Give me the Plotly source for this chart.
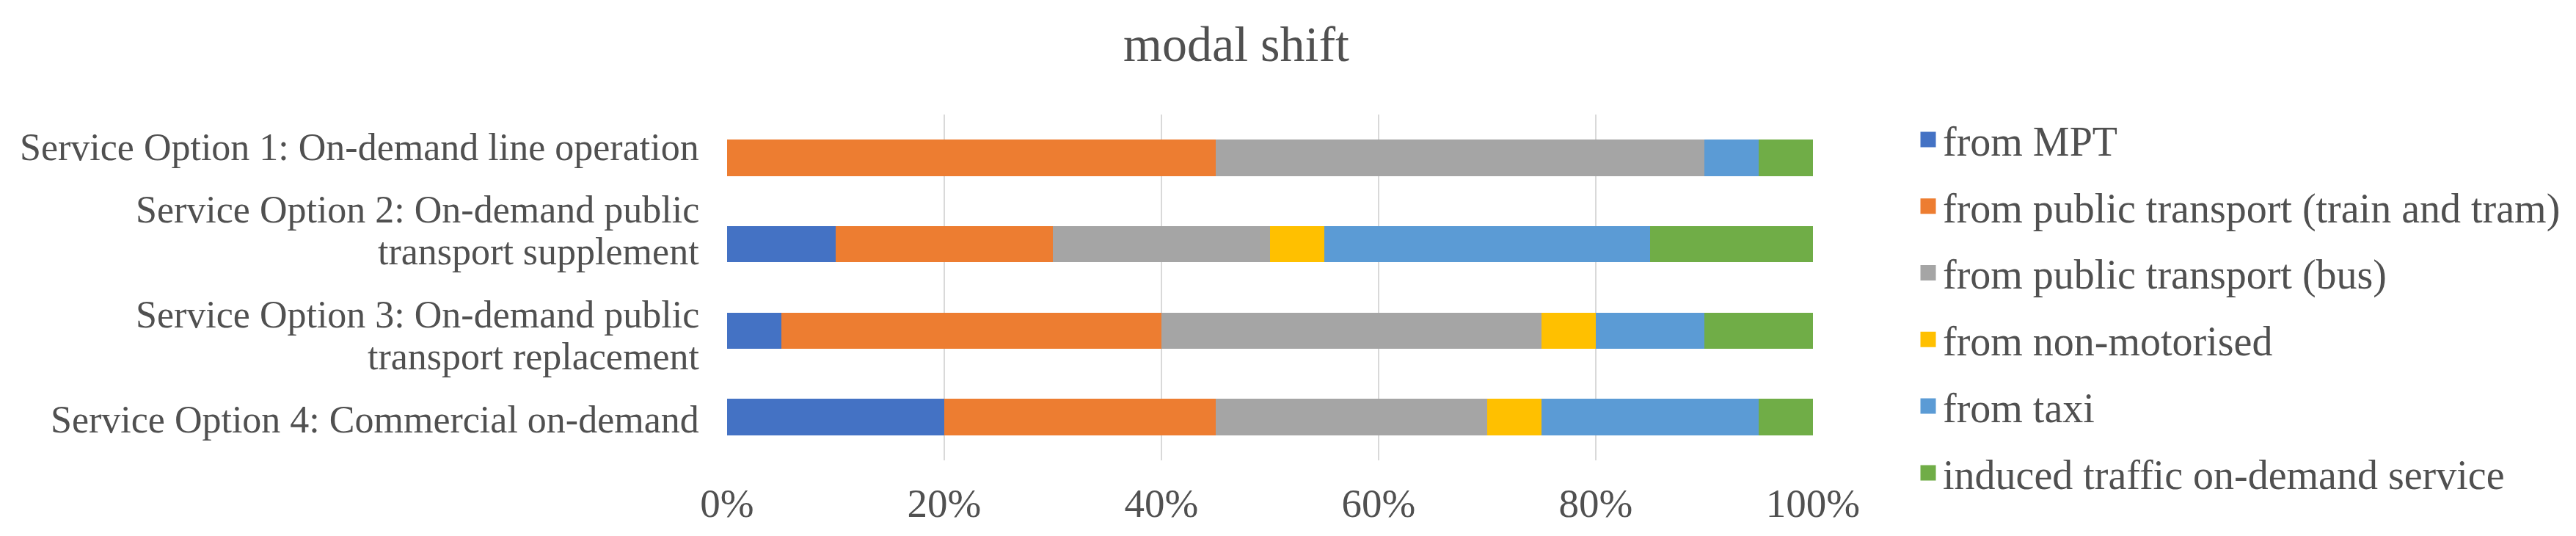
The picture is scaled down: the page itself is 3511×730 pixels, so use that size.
import plotly.graph_objects as go

categories = [
    "Service Option 1: On-demand line operation",
    "Service Option 2: On-demand public transport supplement",
    "Service Option 3: On-demand public transport replacement",
    "Service Option 4: Commercial on-demand",
]
# how each category label is wrapped on screen
label_lines = [
    ["Service Option 1: On-demand line operation"],
    ["Service Option 2: On-demand public", "transport supplement"],
    ["Service Option 3: On-demand public", "transport replacement"],
    ["Service Option 4: Commercial on-demand"],
]
series_names = [
    "from MPT",
    "from public transport (train and tram)",
    "from public transport (bus)",
    "from non-motorised",
    "from taxi",
    "induced traffic on-demand service",
]
from_mpt = [0.00, 0.10, 0.05, 0.20]
from_rail = [0.45, 0.20, 0.35, 0.25]
from_bus = [0.45, 0.20, 0.35, 0.25]
from_nonmot = [0.00, 0.05, 0.05, 0.05]
from_taxi = [0.05, 0.30, 0.10, 0.20]
induced = [0.05, 0.15, 0.10, 0.05]
colors = ["#4472C4", "#ED7D31", "#A5A5A5", "#FFC000", "#5B9BD5", "#70AD47"]
tick_vals = [0, 0.2, 0.4, 0.6, 0.8, 1.0]
tick_text = ["0%", "20%", "40%", "60%", "80%", "100%"]

series_values = [from_mpt, from_rail, from_bus, from_nonmot, from_taxi, induced]

FONT = "Liberation Serif, Times New Roman, serif"
TXT = "#505050"

fig = go.Figure()
for name, vals, col in zip(series_names, series_values, colors):
    fig.add_trace(go.Bar(
        x=vals, y=categories, orientation="h", name=name,
        marker=dict(color=col, line=dict(width=0)),
        showlegend=False,
    ))
# legend proxies (bigger square swatches)
for name, col in zip(series_names, colors):
    fig.add_trace(go.Scatter(
        x=[None], y=[None], mode="markers", name=name, legendgroup=name,
        marker=dict(symbol="square", size=16, color=col, line=dict(width=5, color=col)),
        showlegend=True, hoverinfo="skip",
    ))

# category labels, one annotation per wrapped line (vertical pixel offsets per line)
line_shifts = [[14], [47, -10], [22, -35], [-3]]
for cat, lines, shifts in zip(categories, label_lines, line_shifts):
    for ln, sh in zip(lines, shifts):
        fig.add_annotation(
            x=0, xref="paper", y=cat, yref="y", text=ln, showarrow=False,
            xanchor="right", yanchor="middle", xshift=-36, yshift=sh,
            font=dict(family=FONT, size=52, color=TXT),
        )

fig.update_layout(
    width=3511, height=730,
    barmode="stack", bargap=0.58,
    paper_bgcolor="white", plot_bgcolor="white",
    margin=dict(l=983, r=1048, t=148, b=111),
    font=dict(family=FONT, color=TXT, size=52),
    title=dict(text="modal shift", x=1677 / 3511, xref="container", xanchor="center",
               y=1 - 51 / 730, yref="container", yanchor="middle",
               font=dict(family=FONT, size=68, color=TXT)),
    legend=dict(
        xref="container", yref="container", x=2600 / 3511, y=1 - 139 / 730,
        xanchor="left", yanchor="top", traceorder="grouped", tracegroupgap=15,
        maxheight=720,
        font=dict(family=FONT, size=56, color=TXT), bgcolor="rgba(0,0,0,0)",
    ),
    xaxis=dict(
        range=[0, 1], tickvals=tick_vals, ticktext=tick_text,
        showgrid=True, gridcolor="#D9D9D9", gridwidth=2, zeroline=False,
        showline=False, ticks="", tickfont=dict(size=55, color=TXT),
        ticklabelstandoff=21, fixedrange=True,
    ),
    yaxis=dict(
        autorange="reversed", showgrid=False, zeroline=False, showline=False,
        ticks="", showticklabels=False,
    ),
)

fig.write_html("out.html")
